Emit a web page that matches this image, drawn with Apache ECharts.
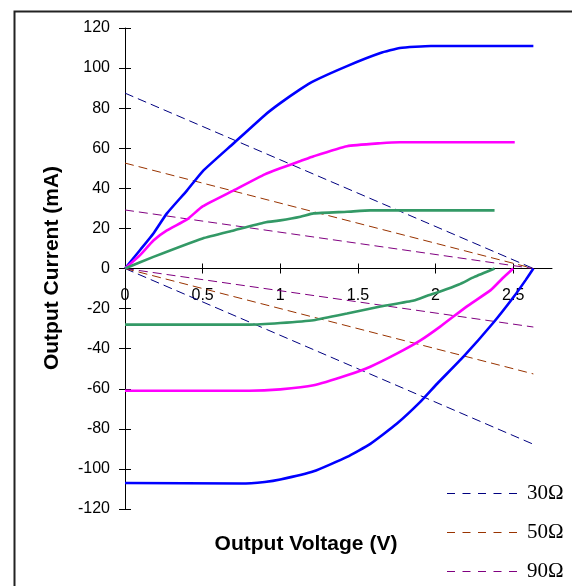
<!DOCTYPE html>
<html>
<head>
<meta charset="utf-8">
<script src="https://cdn.jsdelivr.net/npm/echarts@6/dist/echarts.min.js"></script>
<style>html,body{margin:0;padding:0;background:#fff}#c{width:572px;height:586px}</style>
</head>
<body>
<div id="c"></div>
<script>
// ---- data (Output Voltage V, Output Current mA) ----
const xTickValues = [0, 0.5, 1, 1.5, 2, 2.5];
const yTickStep = 20;

const blueSource = [[0,0],[0.1,9.5],[0.183,17.5],[0.27,27.5],[0.4,39],[0.5,48.5],[0.7,62.5],[0.9,76.5],[1.0,82.5],[1.13,89.5],[1.215,93.5],[1.43,101],[1.645,107.5],[1.77,110],[1.97,111],[2.63,111]];
const blueSink = [[0,-107],[0.75,-107.3],[0.9,-106.5],[1.0,-105.3],[1.215,-101.2],[1.43,-94],[1.58,-87.5],[1.75,-77.5],[1.9,-66.7],[2.01,-57.5],[2.18,-44],[2.376,-26.7],[2.505,-14],[2.58,-5.8],[2.63,0]];

const magentaSource = [[0,0],[0.097,6.7],[0.183,14],[0.27,19],[0.4,24.5],[0.5,31],[0.7,39],[0.9,47],[1.0,50],[1.13,53.6],[1.215,56],[1.43,61],[1.645,62.5],[1.77,63],[2.51,63]];
const magentaSink = [[0,-61],[0.8,-61],[1.0,-60.3],[1.215,-58.3],[1.43,-53.3],[1.58,-49],[1.75,-42.5],[1.9,-36],[2.03,-29],[2.2,-19],[2.355,-10.8],[2.43,-5],[2.5,0]];

const greenSource = [[0,0],[0.183,5.8],[0.5,15],[0.7,19],[0.9,23],[1.0,24],[1.13,25.8],[1.215,27.5],[1.43,28.3],[1.58,29],[2.38,29]];
const greenSink = [[0,-28],[0.8,-28],[1.0,-27.2],[1.215,-25.8],[1.43,-22.5],[1.645,-19],[1.86,-16],[1.95,-13.5],[2.03,-11.5],[2.15,-8],[2.25,-4.2],[2.38,0]];

const load30Top = [[0,87.5],[2.63,0]];
const load30Bot = [[0,0],[2.63,-87.7]];
const load50Top = [[0,52.6],[2.63,0]];
const load50Bot = [[0,0],[2.63,-52.6]];
const load90Top = [[0,29.2],[2.63,0]];
const load90Bot = [[0,0],[2.63,-29.2]];

const legendNames = ['30Ω','50Ω','90Ω'];
const xTitle = 'Output Voltage (V)';
const yTitle = 'Output Current (mA)';

// ---- chart ----
const chart = echarts.init(document.getElementById('c'), null, {renderer:'canvas'});
const sans = 'Liberation Sans, Arial, sans-serif';
const loadColors = ['#000080', '#993300', '#800080'];
// dashed legend sample: five 8-unit dashes over a 70 x 1 box
const dashIcon = 'path://M0,0h8v1h-8zM15.5,0h8v1h-8zM31,0h8v1h-8zM46.5,0h8v1h-8zM62,0h8v1h-8z';

function solid(data, color){
  return {type:'line', data:data, symbol:'none', smooth:0.15, silent:true,
    lineStyle:{color:color, width:2.6}, itemStyle:{color:color}, z:3};
}
function dashed(name, data, color){
  return {type:'line', name:name, data:data, symbol:'none', silent:true,
    lineStyle:{color:color, width:1, type:[9,5]}, itemStyle:{color:color}, z:2};
}

const GRID = {left:125, right:20, top:28, bottom:77};
const zeroOffset = -(586 - GRID.top - GRID.bottom) / 2; // move x axis up to y = 0

const xBase = {type:'value', min:0, max:2.75, position:'bottom', offset:zeroOffset,
  splitLine:{show:false}};
const yBase = {type:'value', min:-120, max:120, interval:yTickStep, position:'left',
  splitLine:{show:false}};

const option = {
  animation:false,
  backgroundColor:'#fff',
  grid:Object.assign({containLabel:false}, GRID),
  xAxis:[
    Object.assign({}, xBase, {
      axisLine:{show:true, onZero:false, lineStyle:{color:'#000', width:1}},
      axisTick:{show:true, inside:false, length:5, customValues:xTickValues, lineStyle:{color:'#000'}},
      axisLabel:{show:true, customValues:xTickValues, margin:19, color:'#000', fontFamily:sans, fontSize:16}
    }),
    Object.assign({}, xBase, {
      axisLine:{show:false, onZero:false},
      axisTick:{show:true, inside:true, length:5, customValues:xTickValues, lineStyle:{color:'#000'}},
      axisLabel:{show:false}
    })
  ],
  yAxis:[
    Object.assign({}, yBase, {
      axisLine:{show:true, onZero:false, lineStyle:{color:'#000', width:1}},
      axisTick:{show:true, inside:false, length:6, lineStyle:{color:'#000'}},
      axisLabel:{show:true, margin:15, color:'#000', fontFamily:sans, fontSize:16}
    }),
    Object.assign({}, yBase, {
      axisLine:{show:false, onZero:false},
      axisTick:{show:true, inside:true, length:6, lineStyle:{color:'#000'}},
      axisLabel:{show:false}
    })
  ],
  legend:{
    show:true, orient:'vertical', left:447, top:483, padding:0,
    itemWidth:70, itemHeight:1, itemGap:18,
    icon:dashIcon,
    data:legendNames,
    textStyle:{fontFamily:'Liberation Serif, Times New Roman, serif', fontSize:21, color:'#000', lineHeight:20, padding:[0,0,0,5]},
    selectedMode:false
  },
  graphic:[
    {type:'rect', left:12, top:9, shape:{x:0,y:0,width:620,height:620}, style:{fill:'none', stroke:'#222', lineWidth:2}, silent:true, z:-1},
    {type:'text', x:306, y:544, style:{text:xTitle, font:'bold 21px '+sans, fill:'#000', align:'center', verticalAlign:'middle'}},
    {type:'text', x:52, y:268, rotation:Math.PI/2, style:{text:yTitle, font:'bold 21px '+sans, fill:'#000', align:'center', verticalAlign:'middle'}}
  ],
  series:[
    dashed(legendNames[0], load30Top, loadColors[0]),
    dashed(legendNames[1], load50Top, loadColors[1]),
    dashed(legendNames[2], load90Top, loadColors[2]),
    dashed(legendNames[0], load30Bot, loadColors[0]),
    dashed(legendNames[1], load50Bot, loadColors[1]),
    dashed(legendNames[2], load90Bot, loadColors[2]),
    solid(blueSource, '#0000FF'),
    solid(blueSink, '#0000FF'),
    solid(magentaSource, '#FF00FF'),
    solid(magentaSink, '#FF00FF'),
    solid(greenSource, '#339966'),
    solid(greenSink, '#339966')
  ]
};
chart.setOption(option);
</script>
</body>
</html>
